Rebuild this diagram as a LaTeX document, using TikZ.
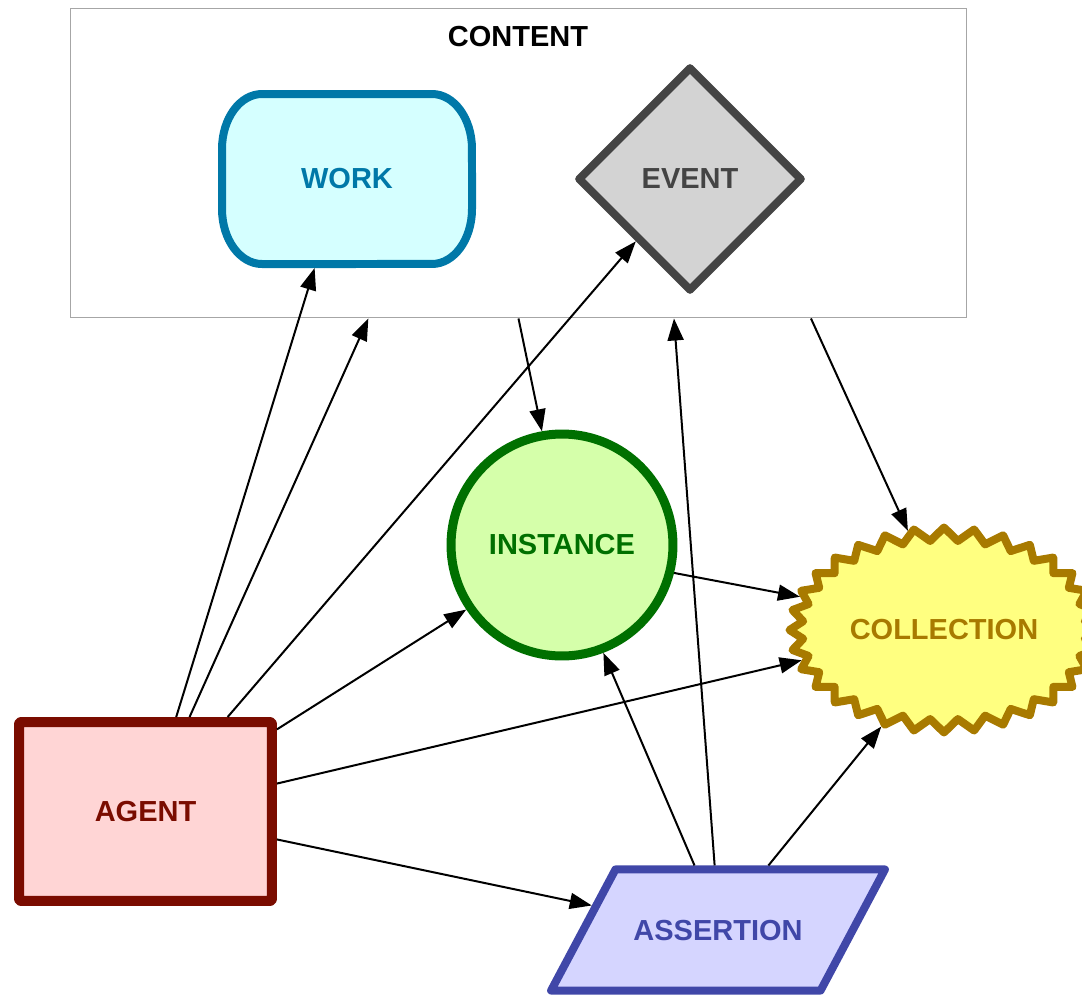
\documentclass[tikz,border=0pt]{standalone}
\usepackage{fontspec}
\setmainfont{Liberation Sans}
\usetikzlibrary{shapes.geometric,shapes.symbols,arrows.meta}

\definecolor{workline}{HTML}{0078A8}
\definecolor{workfill}{HTML}{D5FFFF}
\definecolor{eventline}{HTML}{444444}
\definecolor{eventfill}{HTML}{D3D3D3}
\definecolor{instline}{HTML}{007000}
\definecolor{instfill}{HTML}{D5FFAA}
\definecolor{collline}{HTML}{A87A00}
\definecolor{collfill}{HTML}{FFFF80}
\definecolor{agentline}{HTML}{7A0C00}
\definecolor{agentfill}{HTML}{FFD5D5}
\definecolor{assline}{HTML}{4047A8}
\definecolor{assfill}{HTML}{D5D5FF}

\begin{document}
\begin{tikzpicture}[x=0.02cm,y=-0.02cm,
    every node/.style={font=\fontsize{16.5}{20}\selectfont\bfseries},
    shapebox/.style={line width=0.16cm,line join=round},
    link/.style={line width=0.04cm,-{Triangle[length=0.44cm,width=0.32cm]}}]
  \useasboundingbox (0,0) rectangle (1082,998);

  % container
  \node[draw=gray!70,line width=0.02cm,minimum width=17.94cm,minimum height=6.2cm] (content) at (518.5,163) {};
  \node (contenttitle) at (518,37) {CONTENT};

  % entities
  \path[shapebox,draw=workline,fill=workfill] (262,94) -- (432,94)
    arc[start angle=90,end angle=0,x radius=0.8cm,y radius=1.1cm] -- (472,209)
    arc[start angle=0,end angle=-90,x radius=0.8cm,y radius=1.1cm] -- (262,264)
    arc[start angle=270,end angle=180,x radius=0.8cm,y radius=1.1cm] -- (222,149)
    arc[start angle=180,end angle=90,x radius=0.8cm,y radius=1.1cm] -- cycle;
  \node[rectangle,outer sep=0.08cm,text=workline,minimum width=5cm,minimum height=3.4cm] (work) at (347,179) {WORK};
  \node[shapebox,diamond,draw=eventline,fill=eventfill,text=eventline,minimum size=4.5cm] (event) at (690,179) {EVENT};
  \node[shapebox,circle,line width=0.18cm,draw=instline,fill=instfill,text=instline,minimum size=4.44cm] (instance) at (562,545) {INSTANCE};
  \node[shapebox,starburst,starburst points=32,starburst point height=0.26cm,random starburst=0,
        draw=collline,fill=collfill,text=collline,minimum width=5.2cm,minimum height=4.1cm] (collection) at (944,630) {COLLECTION};
  \node[shapebox,rectangle,line width=0.2cm,rounded corners=0.04cm,draw=agentline,fill=agentfill,text=agentline,
        minimum width=5.06cm,minimum height=3.58cm] (agent) at (145.5,811.5) {AGENT};
  \node[shapebox,trapezium,trapezium left angle=62,trapezium right angle=118,
        text height=12pt,text depth=0pt,inner xsep=0.36cm,inner ysep=1cm,
        draw=assline,fill=assfill,text=assline] (assertion) at (718,930) {ASSERTION};

  % links
  \draw[link] (agent.72) -- (work.250);
  \draw[link] (agent.65) -- (content.226);
  \draw[link] (agent.49) -- (event.229);
  \draw[link] (agent.32) -- (instance.214);
  \draw[link] (agent.12.6) -- (collection.192.6);
  \draw[link] (agent.348) -- (assertion.169);
  \draw[link] (content.270) -- (instance.100.5);
  \draw[link] (content.332.6) -- (collection.110.2);
  \draw[link] (instance.346.3) -- (collection.167.5);
  \draw[link] (assertion.110.9) -- (instance.291);
  \draw[link] (assertion.93.4) -- (content.315);
  \draw[link] (assertion.52.6) -- (collection.237.1);
\end{tikzpicture}
\end{document}
